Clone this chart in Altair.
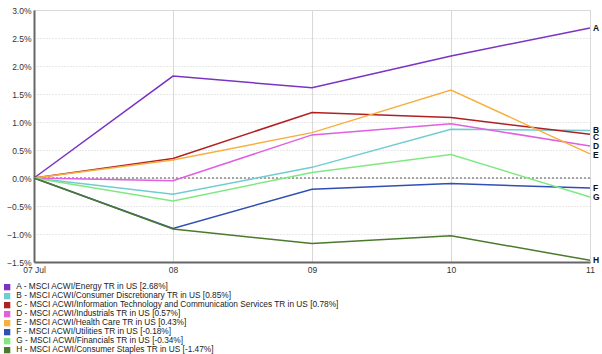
import altair as alt
import pandas as pd

dates = ["07 Jul", "08", "09", "10", "11"]
letters = ["A", "B", "C", "D", "E", "F", "G", "H"]
names = [
    "A - MSCI ACWI/Energy TR in US [2.68%]",
    "B - MSCI ACWI/Consumer Discretionary TR in US [0.85%]",
    "C - MSCI ACWI/Information Technology and Communication Services TR in US [0.78%]",
    "D - MSCI ACWI/Industrials TR in US [0.57%]",
    "E - MSCI ACWI/Health Care TR in US [0.43%]",
    "F - MSCI ACWI/Utilities TR in US [-0.18%]",
    "G - MSCI ACWI/Financials TR in US [-0.34%]",
    "H - MSCI ACWI/Consumer Staples TR in US [-1.47%]",
]
A = [0, 1.82, 1.61, 2.18, 2.68]
B = [0, -0.29, 0.19, 0.87, 0.85]
C = [0, 0.35, 1.17, 1.08, 0.78]
D = [0, -0.05, 0.77, 0.97, 0.57]
E = [0, 0.32, 0.81, 1.57, 0.43]
F = [0, -0.90, -0.20, -0.10, -0.18]
G = [0, -0.41, 0.10, 0.42, -0.34]
H = [0, -0.91, -1.17, -1.03, -1.47]
series = [A, B, C, D, E, F, G, H]
colors = ["#7A33C2", "#70CCD0", "#B02020", "#E060E0", "#F7B040",
          "#2F4FB5", "#80E880", "#4A7A2C"]
yticks = [-1.5, -1.0, -0.5, 0, 0.5, 1.0, 1.5, 2.0, 2.5, 3.0]

rows = []
for i, (lt, nm, vals) in enumerate(zip(letters, names, series)):
    for j, (d, v) in enumerate(zip(dates, vals)):
        rows.append({"letter": lt, "name": nm, "date": d, "order": j, "value": v})
df = pd.DataFrame(rows)
last = df[df["date"] == dates[-1]]

FONT = "Liberation Sans"
xscale = alt.Scale(type="point", padding=0)
xenc = alt.X("date:N", sort=dates, scale=xscale,
             axis=alt.Axis(title=None, labelAngle=0, domainColor="#666666", domainWidth=2,
                           ticks=False, labelPadding=3, labelFontSize=8.5,
                           labelColor="#333333", labelFont=FONT,
                           grid=True, gridColor="#d8d8d8", gridWidth=1))
yscale = alt.Scale(domain=[-1.5, 3.0], nice=False, zero=False)
yenc = alt.Y("value:Q", scale=yscale,
             axis=alt.Axis(title=None, values=yticks, tickCount=20,
                           labelExpr="format(datum.value, '.1f') + '%'",
                           labelOverlap=False,
                           domainColor="#666666", domainWidth=2, ticks=False,
                           labelPadding=3, labelFontSize=8.5, labelColor="#333333",
                           labelFont=FONT, grid=True, gridColor="#d0d0d0",
                           gridDash=[1, 2], gridWidth=1))
cenc = alt.Color("name:N", scale=alt.Scale(domain=names, range=colors),
                 legend=alt.Legend(title=None, orient="none", legendX=-31, legendY=273,
                                   symbolType="square", symbolSize=40,
                                   symbolStrokeWidth=0, symbolOpacity=1,
                                   labelFontSize=8.3,
                                   labelFont=FONT, labelColor="#222222",
                                   labelLimit=1000, rowPadding=0,
                                   symbolOffset=0, labelOffset=5))

keys = alt.Chart(df[df["order"] == 0]).mark_square(filled=True, opacity=0, size=1).encode(
    x=xenc, y=yenc, color=cenc)

lines = alt.Chart(df).mark_line(strokeWidth=1.5).encode(
    x=xenc, y=yenc, color=cenc,
    order="order:Q",
    detail="letter:N",
)

zero = alt.Chart(pd.DataFrame({"v": [0]})).mark_rule(
    color="#555555", strokeDash=[2, 2], strokeWidth=1).encode(y=alt.Y("v:Q", scale=yscale))

nudges = {"C": 3, "E": 1}
labels = []
for lt in letters:
    labels.append(
        alt.Chart(last[last["letter"] == lt]).mark_text(
            align="left", baseline="middle", dx=3, dy=nudges.get(lt, 0),
            fontWeight="bold", fontSize=8.5, font=FONT, color="#111111", clip=False
        ).encode(x=alt.X("date:N", sort=dates, scale=xscale),
                 y=alt.Y("value:Q", scale=yscale), text="letter:N")
    )

chart = alt.layer(keys, zero, lines, *labels).properties(
    width=556, height=252,
    autosize=alt.AutoSizeParams(type="none"),
    padding={"left": 34, "top": 10, "right": 12, "bottom": 92},
).configure_view(stroke="#d8d8d8", strokeWidth=1.5).configure(background="white")

chart.save("out.html", embed_options={"renderer": "svg", "actions": False})
